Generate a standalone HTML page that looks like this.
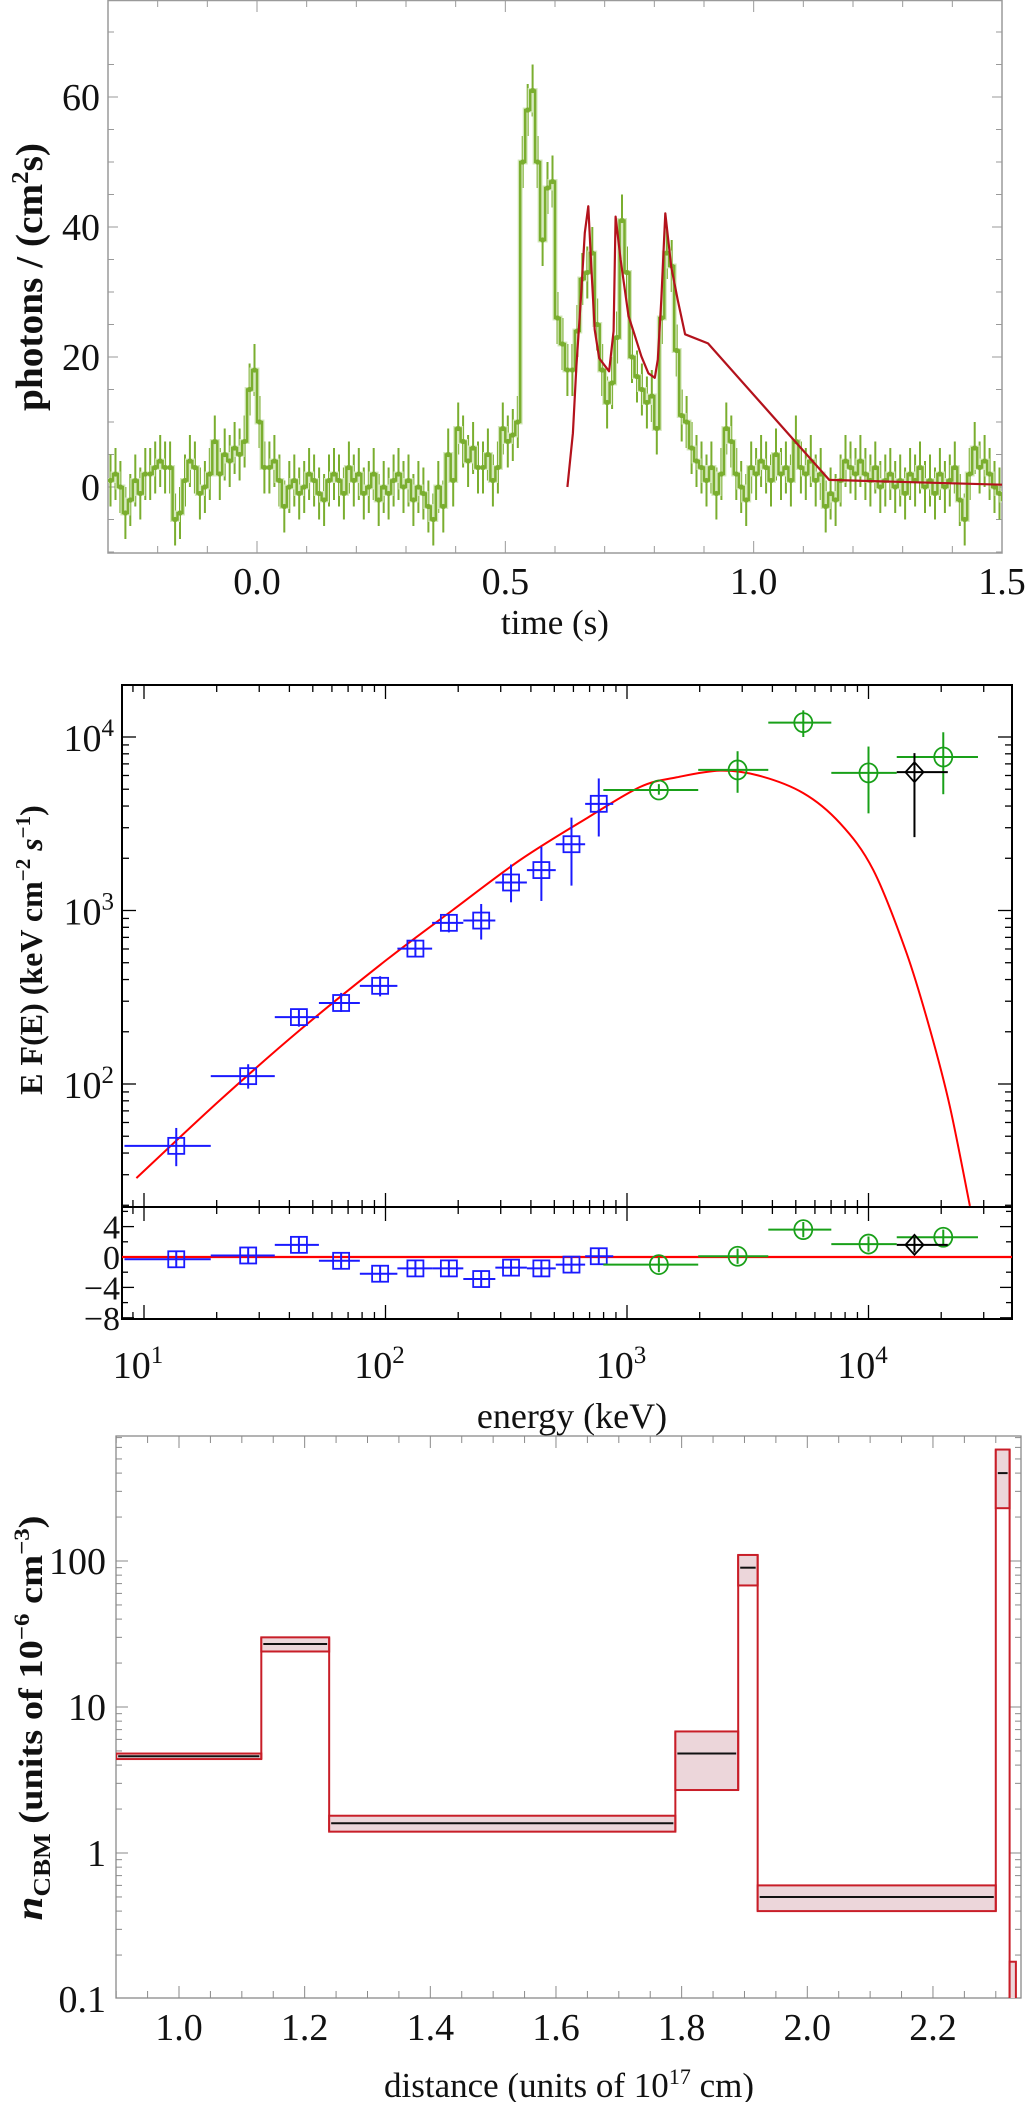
<!DOCTYPE html>
<html><head><meta charset="utf-8"><style>
html,body{margin:0;padding:0;background:#fff;}
svg{display:block;font-family:"Liberation Serif",serif;}
</style></head><body>
<svg id="fig" width="1025" height="2102" viewBox="0 0 1025 2102" xmlns="http://www.w3.org/2000/svg">
<g id="p1"></g>
<g id="p2"></g>
<g id="p3"></g>
</svg>
<script>
// ---------- Panel 1 data ----------
const lcStart = -0.30;
const lcBin = 0.01;
const lcValues = [1,2,0,-4,-2,1,-1,2,2,3,4,3,3,-5,-4,1,4,3,-1,0,2,7,2,5,4,6,5,7,15,18,10,3,3,4,1,-3,0,1,-1,0,2,1,-1,-2,1,2,1,-1,3,1,2,-1,0,2,-2,0,-1,1,2,0,1,-2,0,-1,-3,-5,0,-3,5,1,9,7,4,6,3,3,5,1,3,9,7,8,10,50,58,61,50,38,46,47,26,22,18,18,24,32,33,36,25,18,13,16,23,41,33,20,17,15,13,14,9,26,36,34,21,11,10,6,4,3,1,3,-1,2,9,7,2,0,-2,3,2,4,3,1,5,2,3,1,7,3,2,4,1,2,-3,-1,-2,1,4,3,2,4,2,1,3,0,1,2,0,1,-1,2,1,3,0,1,-1,2,0,1,3,-2,-5,2,6,3,4,2,0,-1,-2];
const lcErr = 4;
const modelT = [0.625,0.636,0.643,0.652,0.660,0.667,0.673,0.680,0.689,0.709,0.718,0.722,0.732,0.748,0.759,0.774,0.788,0.801,0.807,0.814,0.822,0.834,0.847,0.862,0.908,1.152,1.5];
const modelV = [0,8.3,18.6,28.8,39.1,43.2,33.9,24.2,19.8,17.8,24,41.6,35,26.3,23.7,20.1,17.5,16.8,19.6,28.8,42.1,33.9,28.8,23.5,22.1,1.1,0.35];
const p1XTicks = [0.0,0.5,1.0,1.5];
const p1XTickLabels = ["0.0","0.5","1.0","1.5"];
const p1YTicks = [0,20,40,60];
const p1YTickLabels = ["0","20","40","60"];

// ---------- Panel 2 data ----------
const batE   = [13.6,27,43.8,65.5,95,133,183,249,331,442,589,764];
const batF   = [44,111,243,293,368,603,849,875,1450,1710,2410,4120];
const batElo = [8.3,18.9,34.8,53,78.3,112,156,210,285,385,507,671];
const batEhi = [18.9,34.8,53,78.3,112,156,210,285,385,507,671,877];
const batFlo = [33.6,94,214,260,320,538,748,680,1115,1135,1390,2670];
const batFhi = [55.8,130,272,335,418,680,950,1090,1840,2330,3430,5770];
const batRes = [-0.3,0.2,1.6,-0.5,-2.2,-1.5,-1.5,-2.9,-1.4,-1.5,-1.0,0.1];
const gbmE   = [1355,2870,5370,10000,20400];
const gbmF   = [4950,6460,12100,6210,7670];
const gbmElo = [798,1972,3846,7015,13090];
const gbmEhi = [1972,3846,7015,13090,28400];
const gbmFlo = [4650,4770,10000,3630,4680];
const gbmFhi = [5350,8280,14250,8810,10650];
const gbmRes = [-1.0,0.1,3.6,1.7,2.6];
const bgoE = [15500], bgoF = [6270], bgoElo = [13090], bgoEhi = [21300], bgoFlo = [2650], bgoFhi = [8070], bgoRes = [1.6];
const specModelE = [9.3,20.7,44.3,101,190,361,683,1132,1600,2430,3500,5370,7620,10470,14390,17990,21730,26300];
const specModelF = [28.7,81,205,519,1007,1955,3410,5150,5850,6400,6000,4750,3185,1710,566,205,74,19.8];
const p2XDecades = [1,2,3,4];
const p2YDecades = [2,3,4];
const p2ResTicks = [4,0,-4,-8];
const p2ResTickLabels = ["4","0","\u22124","\u22128"];

// ---------- Panel 3 data ----------
const binLeft  = [0.90,1.131,1.239,1.79,1.89,1.921,2.30,2.322];
const binRight = [1.131,1.239,1.79,1.89,1.921,2.30,2.322,2.332];
const nLo  = [4.4,24,1.4,2.7,68,0.40,230,0.05];
const nMid = [4.6,27,1.6,4.8,90,0.50,400,null];
const nHi  = [4.8,30,1.8,6.8,110,0.60,580,0.18];
const p3XTicks = [1.0,1.2,1.4,1.6,1.8,2.0,2.2];
const p3XTickLabels = ["1.0","1.2","1.4","1.6","1.8","2.0","2.2"];
const p3YTicks = [0.1,1,10,100];
const p3YTickLabels = ["0.1","1","10","100"];

const NS = "http://www.w3.org/2000/svg";
function mk(parent, tag, attrs, text){
  const e = document.createElementNS(NS, tag);
  for (const k in attrs) e.setAttribute(k, attrs[k]);
  if (text !== undefined) e.textContent = text;
  parent.appendChild(e);
  return e;
}
const L10 = Math.log10;
function smoothPath(pts){
  let d = 'M'+pts[0][0].toFixed(1)+','+pts[0][1].toFixed(1);
  for (let i=0;i<pts.length-1;i++){
    const p0=pts[Math.max(0,i-1)], p1=pts[i], p2=pts[i+1], p3=pts[Math.min(pts.length-1,i+2)];
    const c1x=p1[0]+(p2[0]-p0[0])/6, c1y=p1[1]+(p2[1]-p0[1])/6;
    const c2x=p2[0]-(p3[0]-p1[0])/6, c2y=p2[1]-(p3[1]-p1[1])/6;
    d += `C${c1x.toFixed(1)},${c1y.toFixed(1)} ${c2x.toFixed(1)},${c2y.toFixed(1)} ${p2[0].toFixed(1)},${p2[1].toFixed(1)}`;
  }
  return d;
}

// ================= PANEL 1 =================
(function(){
  const g = document.getElementById('p1');
  const X0=108, X1=1002, Y0=0, Y1=553;
  const xs = t => X0 + (t - (-0.3)) / 1.8 * (X1 - X0);
  const ys = v => 487 - v * 6.5;
  const ax = '#9a9a9a';
  let e = mk(g,'rect',{x:X0,y:Y0+0.5,width:X1-X0,height:Y1-Y0-0.5,fill:'none',stroke:ax,'stroke-width':1.5});
   
  for (let k=-3;k<=15;k++){
    const t=k/10, x=xs(t), major = (k%5===0);
    const len = major?12:7;
    mk(g,'line',{x1:x,y1:Y1,x2:x,y2:Y1-len,stroke:ax,'stroke-width':1});
    mk(g,'line',{x1:x,y1:Y0,x2:x,y2:Y0+len,stroke:ax,'stroke-width':1});
  }
  for (let v=-10;v<=75;v+=5){
    const y=ys(v); if (y<Y0||y>Y1) continue;
    const len = (v%20===0)?10:6;
    mk(g,'line',{x1:X0,y1:y,x2:X0+len,y2:y,stroke:ax,'stroke-width':1});
    mk(g,'line',{x1:X1,y1:y,x2:X1-len,y2:y,stroke:ax,'stroke-width':1});
  }
  p1XTicks.forEach((t,i)=>{
    e = mk(g,'text',{x:xs(t),y:594,'font-size':38,'text-anchor':'middle',fill:'#111'},p1XTickLabels[i]);
     
  });
  p1YTicks.forEach((v,i)=>{
    e = mk(g,'text',{x:100,y:ys(v)+13,'font-size':38,'text-anchor':'end',fill:'#111'},p1YTickLabels[i]);
     
  });
  e = mk(g,'text',{x:555,y:634,'font-size':35,'text-anchor':'middle',fill:'#111'},'time (s)');
   
  e = mk(g,'text',{transform:'translate(42,277) rotate(-90)','font-size':38,'font-weight':'bold','text-anchor':'middle',fill:'#111',textLength:268,lengthAdjust:'spacingAndGlyphs'});
  e.innerHTML = 'photons / (cm<tspan dy="-14" font-size="24">2</tspan><tspan dy="14">s)</tspan>';
   

  const cg = mk(g,'g',{'clip-path':'url(#c1)'});
  const defs = mk(document.getElementById('fig'),'defs',{});
  const cp = mk(defs,'clipPath',{id:'c1'}); mk(cp,'rect',{x:X0,y:Y0,width:X1-X0,height:Y1-Y0});
  let eb='', st='';
  lcValues.forEach((v,i)=>{
    const t0=lcStart+i*lcBin, tc=t0+lcBin/2;
    const x=xs(tc);
    eb += `M${x.toFixed(1)},${ys(v-lcErr).toFixed(1)}V${ys(v+lcErr).toFixed(1)}`;
    st += (i===0?'M':'L')+xs(t0).toFixed(1)+','+ys(v).toFixed(1)+'H'+xs(t0+lcBin).toFixed(1);
  });
  e = mk(cg,'path',{d:eb,stroke:'#7aae2f','stroke-width':2,fill:'none'});
   
  mk(cg,'path',{d:st,stroke:'#d6e8bf','stroke-width':5,fill:'none'});
  e = mk(cg,'path',{d:st,stroke:'#7aae2f','stroke-width':2.5,fill:'none'});
   
  lcValues.forEach((v,i)=>{
    const d = mk(cg,'circle',{cx:xs(lcStart+i*lcBin+lcBin/2),cy:ys(v),r:2.6,fill:'#7aae2f'});
    
    
  });
  let md = modelT.map((t,i)=>(i?'L':'M')+xs(t).toFixed(1)+','+ys(modelV[i]).toFixed(1)).join('');
  e = mk(cg,'path',{d:md,stroke:'#b3121c','stroke-width':2.2,fill:'none','stroke-linejoin':'round'});
   
})();

// ================= PANEL 2 =================
(function(){
  const g = document.getElementById('p2');
  const X0=122, X1=1012, T=685, MB=1207, RB=1319;
  const xs = E => 144 + (L10(E) - 1) * 241.5;
  const ys = F => 737 - (L10(F) - 4) * 173.5;
  const rs = r => 1257 - r * 7.6;
  const defs = mk(document.getElementById('fig'),'defs',{});
  const c2 = mk(defs,'clipPath',{id:'c2'}); mk(c2,'rect',{x:X0,y:T,width:X1-X0,height:MB-T});
  const c2r = mk(defs,'clipPath',{id:'c2r'}); mk(c2r,'rect',{x:X0,y:MB,width:X1-X0,height:RB-MB});
  let e;
  for (let d=0; d<=4; d++){
    for (let m=1;m<=9;m++){
      const E=m*Math.pow(10,d), x=xs(E);
      if (x<X0||x>X1) continue;
      const len = m===1?14:7;
      [[T,1],[MB,-1],[MB,1],[RB,-1]].forEach(([y0,s])=>mk(g,'line',{x1:x,y1:y0,x2:x,y2:y0+s*len,stroke:'#000','stroke-width':1.3}));
    }
  }
  for (let d=1; d<=4; d++){
    for (let m=1;m<=9;m++){
      const F=m*Math.pow(10,d), y=ys(F);
      if (y<T||y>MB) continue;
      const len = m===1?14:7;
      mk(g,'line',{x1:X0,y1:y,x2:X0+len,y2:y,stroke:'#000','stroke-width':1.3});
      mk(g,'line',{x1:X1,y1:y,x2:X1-len,y2:y,stroke:'#000','stroke-width':1.3});
    }
  }
  for (let r=-8;r<=6;r+=2){
    const y=rs(r); if (y<MB||y>RB) continue;
    const len = (r%4===0)?12:6;
    mk(g,'line',{x1:X0,y1:y,x2:X0+len,y2:y,stroke:'#000','stroke-width':1.3});
    mk(g,'line',{x1:X1,y1:y,x2:X1-len,y2:y,stroke:'#000','stroke-width':1.3});
  }
  e = mk(g,'rect',{x:X0,y:T,width:X1-X0,height:RB-T,fill:'none',stroke:'#000','stroke-width':2});
   
  mk(g,'line',{x1:X0,y1:MB,x2:X1,y2:MB,stroke:'#000','stroke-width':2});
  p2XDecades.forEach(d=>{
    e = mk(g,'text',{x:xs(Math.pow(10,d))-6,y:1378,'font-size':38,'text-anchor':'middle',fill:'#111'});
    e.innerHTML = '10<tspan dy="-15" font-size="25">'+d+'</tspan>';
     
  });
  p2YDecades.forEach(d=>{
    e = mk(g,'text',{x:114,y:ys(Math.pow(10,d))+14,'font-size':38,'text-anchor':'end',fill:'#111'});
    e.innerHTML = '10<tspan dy="-15" font-size="25">'+d+'</tspan>';
     
  });
  p2ResTicks.forEach((r,i)=>{
    e = mk(g,'text',{x:120,y:rs(r)+12,'font-size':34,'text-anchor':'end',fill:'#111'},p2ResTickLabels[i]);
     
  });
  e = mk(g,'text',{x:572,y:1428,'font-size':36,'text-anchor':'middle',fill:'#111'},'energy (keV)');
   
  e = mk(g,'text',{transform:'translate(42,950) rotate(-90)','font-size':32,'font-weight':'bold','text-anchor':'middle',fill:'#111'});
  e.innerHTML = 'E F(E) (keV cm<tspan dy="-12" font-size="21">\u22122</tspan><tspan dy="12"> </tspan><tspan font-style="italic">s</tspan><tspan dy="-12" font-size="21">\u22121</tspan><tspan dy="12">)</tspan>';
   

  const mg = mk(g,'g',{'clip-path':'url(#c2)'});
  const rg = mk(g,'g',{'clip-path':'url(#c2r)'});
  const md = smoothPath(specModelE.map((E,i)=>[xs(E), ys(specModelF[i])]));
  e = mk(mg,'path',{d:md,stroke:'#ff0000','stroke-width':2,fill:'none'});
   
  e = mk(rg,'line',{x1:X0,y1:rs(0),x2:X1,y2:rs(0),stroke:'#ff0000','stroke-width':2.2});
   

  function series(E,F,Elo,Ehi,Flo,Fhi,R,col,shape,name){
    E.forEach((en,i)=>{
      const x=xs(en), y=ys(F[i]);
      const pg = mk(mg,'g',{});
      
      
      mk(pg,'line',{x1:xs(Elo[i]),y1:y,x2:xs(Ehi[i]),y2:y,stroke:col,'stroke-width':2});
      mk(pg,'line',{x1:x,y1:ys(Flo[i]),x2:x,y2:ys(Fhi[i]),stroke:col,'stroke-width':2});
      marker(pg,x,y,col,shape);
      const ry = rs(R[i]);
      const qg = mk(rg,'g',{});
      
      
      mk(qg,'line',{x1:xs(Elo[i]),y1:ry,x2:xs(Ehi[i]),y2:ry,stroke:col,'stroke-width':2});
      mk(qg,'line',{x1:x,y1:rs(R[i]-1),x2:x,y2:rs(R[i]+1),stroke:col,'stroke-width':2});
      marker(qg,x,ry,col,shape);
    });
  }
  function marker(p,x,y,col,shape){
    if (shape==='sq') mk(p,'rect',{x:x-8,y:y-8,width:16,height:16,fill:'none',stroke:col,'stroke-width':1.8});
    else if (shape==='ci') mk(p,'ellipse',{cx:x,cy:y,rx:9,ry:9.5,fill:'none',stroke:col,'stroke-width':1.8});
    else mk(p,'path',{d:`M${x},${y-10}L${x+9},${y}L${x},${y+10}L${x-9},${y}Z`,fill:'none',stroke:col,'stroke-width':1.8});
  }
  series(batE,batF,batElo,batEhi,batFlo,batFhi,batRes,'#1a1aff','sq','bat');
  series(gbmE,gbmF,gbmElo,gbmEhi,gbmFlo,gbmFhi,gbmRes,'#19a019','ci','gbm');
  series(bgoE,bgoF,bgoElo,bgoEhi,bgoFlo,bgoFhi,bgoRes,'#000000','di','bgo');
})();

// ================= PANEL 3 =================
(function(){
  const g = document.getElementById('p3');
  const X0=116, X1=1021, T=1436, B=1998;
  const xs = d => 179 + (d - 1.0) * 628.3;
  const ys = n => 1853 - L10(n) * 146;
  const ax='#8a8a8a';
  const defs = mk(document.getElementById('fig'),'defs',{});
  const c3 = mk(defs,'clipPath',{id:'c3'}); mk(c3,'rect',{x:X0,y:T,width:X1-X0+3,height:B-T});
  let e;
  for (let k=18;k<=46;k++){
    const d=k*0.05, x=xs(d); if (x<X0||x>X1) continue;
    const len = (k%4===0)?12:7;
    mk(g,'line',{x1:x,y1:B,x2:x,y2:B-len,stroke:ax,'stroke-width':1});
    mk(g,'line',{x1:x,y1:T,x2:x,y2:T+len,stroke:ax,'stroke-width':1});
  }
  for (let dd=-1; dd<=2; dd++){
    for (let m=1;m<=9;m++){
      const n=m*Math.pow(10,dd), y=ys(n); if (y<T||y>B) continue;
      const len = m===1?12:6;
      mk(g,'line',{x1:X0,y1:y,x2:X0+len,y2:y,stroke:ax,'stroke-width':1});
      mk(g,'line',{x1:X1,y1:y,x2:X1-len,y2:y,stroke:ax,'stroke-width':1});
    }
  }
  e = mk(g,'rect',{x:X0,y:T,width:X1-X0,height:B-T,fill:'none',stroke:ax,'stroke-width':1.3});
   
  p3XTicks.forEach((d,i)=>{
    e = mk(g,'text',{x:xs(d),y:2040,'font-size':38,'text-anchor':'middle',fill:'#111'},p3XTickLabels[i]);
     
  });
  p3YTicks.forEach((n,i)=>{
    e = mk(g,'text',{x:106,y:ys(n)+13,'font-size':38,'text-anchor':'end',fill:'#111'},p3YTickLabels[i]);
     
  });
  e = mk(g,'text',{x:569,y:2097,'font-size':35,'text-anchor':'middle',fill:'#111'});
  e.innerHTML = 'distance  (units of 10<tspan dy="-13" font-size="22">17</tspan><tspan dy="13"> cm)</tspan>';
   
  e = mk(g,'text',{transform:'translate(42,1718) rotate(-90)','font-size':34,'font-weight':'bold','text-anchor':'middle',fill:'#111','xml:space':'preserve',textLength:405,lengthAdjust:'spacingAndGlyphs'});
  e.innerHTML = '<tspan font-style="italic" font-size="38">n</tspan><tspan dy="8" font-size="24">CBM</tspan><tspan dy="-8">   (units of 10</tspan><tspan dy="-13" font-size="22">\u22126</tspan><tspan dy="13">  cm</tspan><tspan dy="-13" font-size="22">\u22123</tspan><tspan dy="13">)</tspan>';
   

  const cg = mk(g,'g',{'clip-path':'url(#c3)'});
  binLeft.forEach((l,i)=>{
    const x0=xs(l), x1=xs(binRight[i]), yh=ys(nHi[i]), yl=Math.min(ys(nLo[i]),B+5);
    const r = mk(cg,'rect',{x:x0,y:yh,width:x1-x0,height:yl-yh,fill:'#ecd6da',stroke:'#c81e28','stroke-width':2});
    
    
    if (nMid[i]!==null){
      const m = mk(cg,'line',{x1:x0+2,y1:ys(nMid[i]),x2:x1-2,y2:ys(nMid[i]),stroke:'#111','stroke-width':2});
      
      
    }
    if (i<binLeft.length-1){
      const lo=Math.min(nLo[i],nLo[i+1]), hi=Math.max(nHi[i],nHi[i+1]);
      const v = mk(cg,'line',{x1:x1,y1:Math.min(ys(lo),B+5),x2:x1,y2:ys(hi),stroke:'#c81e28','stroke-width':2});
      
      
    }
  });
})();
</script>
</body></html>
